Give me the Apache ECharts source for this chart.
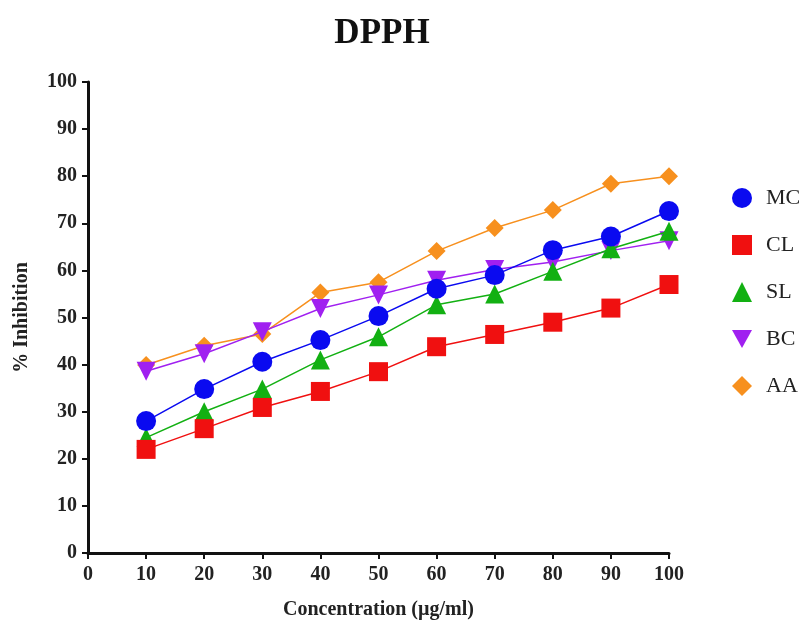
<!DOCTYPE html>
<html>
<head>
<meta charset="utf-8">
<script src="https://cdn.jsdelivr.net/npm/echarts@6/dist/echarts.min.js"></script>
<style>html,body{margin:0;padding:0;background:#fff}#c{width:806px;height:628px}</style>
</head>
<body>
<div id="c"></div>
<script>
const concentrations = [10, 20, 30, 40, 50, 60, 70, 80, 90, 100];
const MC = [28.0, 34.8, 40.6, 45.2, 50.3, 56.1, 59.0, 64.3, 67.2, 72.6];
const CL = [22.0, 26.4, 30.9, 34.3, 38.5, 43.8, 46.4, 49.0, 52.0, 57.0];
const SL = [24.5, 30.0, 34.8, 41.0, 45.9, 52.7, 55.0, 59.8, 64.6, 68.3];
const BC = [38.6, 42.3, 47.0, 51.9, 54.8, 57.9, 60.2, 61.8, 64.2, 66.3];
const AA = [39.9, 44.0, 46.5, 55.3, 57.5, 64.1, 69.0, 72.8, 78.4, 80.0];
const seriesNames = ['MC', 'CL', 'SL', 'BC', 'AA'];
const seriesData = [MC, CL, SL, BC, AA];
const colors = ['#0a0af0', '#f01010', '#12b012', '#a020f0', '#f7901e'];
const symbols = ['circle', 'rect', 'triangle', 'path://M0,0 L10,0 L5,9 Z', 'diamond'];
const sizes = [20, 19, 19, 19, 18];

const serif = '"Liberation Serif", "DejaVu Serif", serif';
const chart = echarts.init(document.getElementById('c'));
chart.setOption({
  animation: false,
  backgroundColor: '#fff',
  title: {
    text: 'DPPH', left: 377, top: 11, textAlign: 'center',
    textStyle: { fontFamily: serif, fontWeight: 'bold', fontSize: 35, color: '#111' }
  },
  legend: {
    orient: 'vertical', left: 727, top: 182, itemGap: 25,
    itemWidth: 20, itemHeight: 20,
    textStyle: { fontFamily: serif, fontSize: 22, lineHeight: 20, color: '#222', padding: [0, 0, 0, 9] },
    data: seriesNames.map((n, i) => ({ name: n, icon: symbols[i] }))
  },
  grid: { left: 88, right: 137, top: 82, bottom: 75 },
  xAxis: {
    type: 'value', min: 0, max: 100, interval: 10,
    name: 'Concentration (µg/ml)', nameLocation: 'middle', nameGap: 47,
    nameTextStyle: { fontFamily: serif, fontWeight: 'bold', fontSize: 20, color: '#222' },
    axisLine: { show: true, lineStyle: { color: '#111', width: 3 } },
    axisTick: { show: true, length: 6, lineStyle: { color: '#111', width: 2 } },
    axisLabel: { fontFamily: serif, fontWeight: 'bold', fontSize: 20, color: '#222', margin: 12 },
    splitLine: { show: false }
  },
  yAxis: {
    type: 'value', min: 0, max: 100, interval: 10,
    name: '% Inhibition', nameLocation: 'middle', nameGap: 56,
    nameTextStyle: { fontFamily: serif, fontWeight: 'bold', fontSize: 20, color: '#222' },
    axisLine: { show: true, lineStyle: { color: '#111', width: 3 } },
    axisTick: { show: true, length: 6, lineStyle: { color: '#111', width: 2 } },
    axisLabel: { fontFamily: serif, fontWeight: 'bold', fontSize: 20, color: '#222', margin: 11 },
    splitLine: { show: false }
  },
  series: seriesNames.map((n, i) => ({
    name: n, type: 'line',
    data: concentrations.map((x, j) => [x, seriesData[i][j]]),
    symbol: symbols[i], symbolSize: sizes[i],
    lineStyle: { color: colors[i], width: 1.5 },
    itemStyle: { color: colors[i] },
    z: 10 - i
  }))
});
</script>
</body>
</html>
